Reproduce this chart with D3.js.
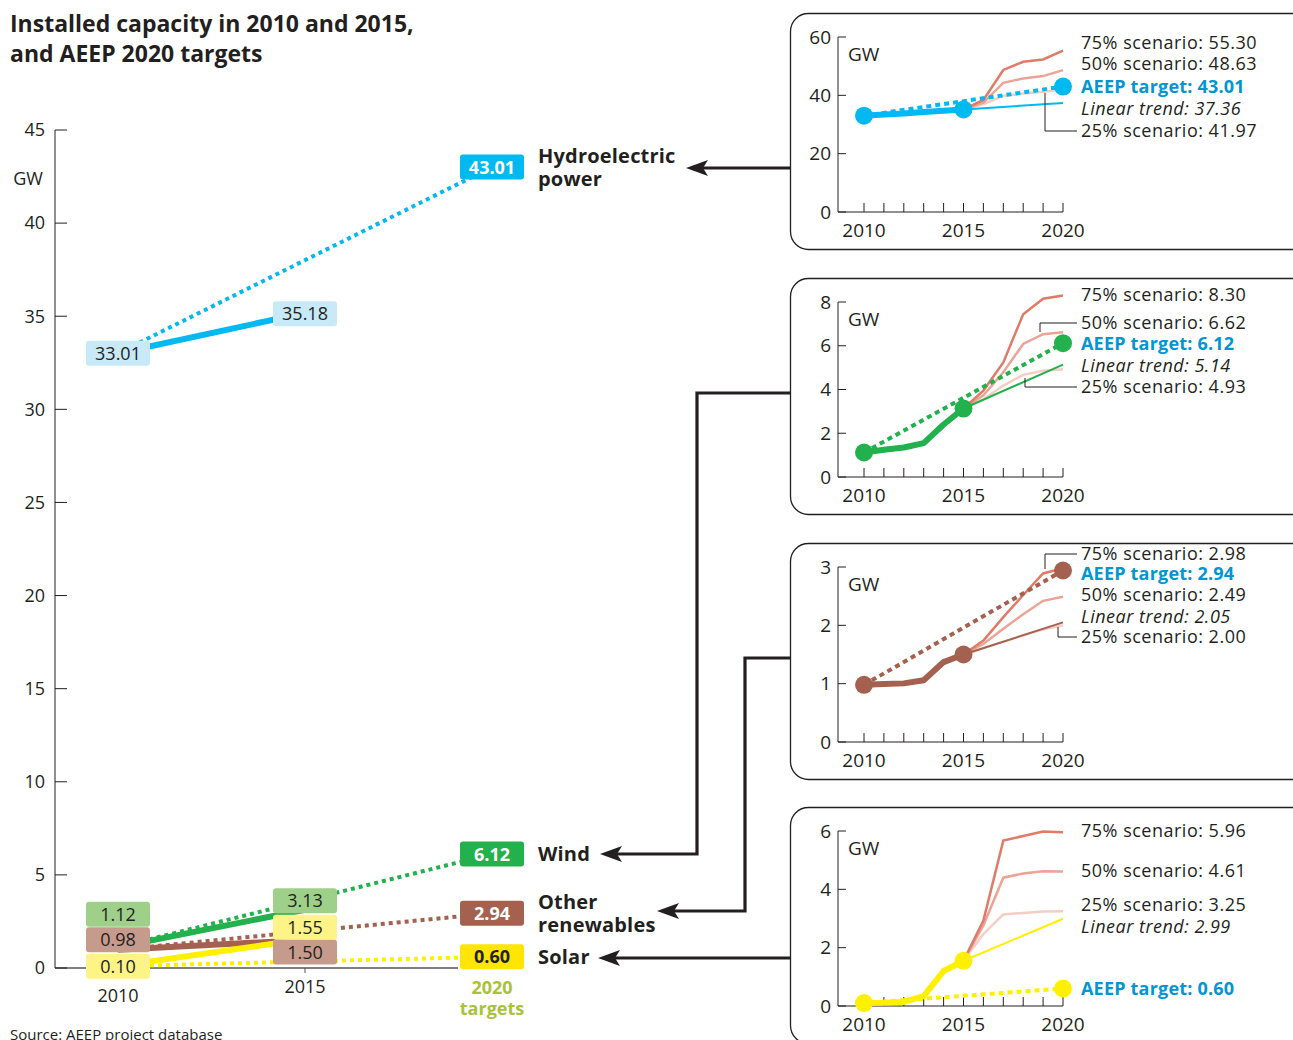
<!DOCTYPE html>
<html>
<head>
<meta charset="utf-8">
<script src="https://cdn.jsdelivr.net/npm/d3@7/dist/d3.min.js"></script>
<style>
  html, body { margin: 0; padding: 0; background: #ffffff; }
  svg { display: block; }
  text { font-family: "Open Sans", "Noto Sans", sans-serif; fill: #231f20; }
</style>
</head>
<body>
<svg id="chart" width="1293" height="1040"></svg>
<script>
// ---------------- DATA ----------------
const mainYears = [2010, 2015, 2020];
const technologies = ["Hydroelectric power", "Wind", "Other renewables", "Solar"];
const values2010 = [33.01, 1.12, 0.98, 0.10];
const values2015 = [35.18, 3.13, 1.50, 1.55];
const targets2020 = [43.01, 6.12, 2.94, 0.60];
const mainTicks = [0, 5, 10, 15, 20, 25, 30, 35, 40, 45];

const panelYears = [2010, 2011, 2012, 2013, 2014, 2015, 2016, 2017, 2018, 2019, 2020];
const histYears = [2010, 2011, 2012, 2013, 2014, 2015];
const scenarioYears = [2015, 2016, 2017, 2018, 2019, 2020];

// Hydroelectric
const hydroHist = [33.01, 33.4, 33.8, 34.3, 34.7, 35.18];
const hydro75 = [35.18, 38.4, 48.7, 51.5, 52.3, 55.30];
const hydro50 = [35.18, 37.5, 44.3, 45.8, 46.6, 48.63];
const hydro25 = [35.18, 37.0, 39.8, 40.6, 41.2, 41.97];
const hydroLinear = [35.18, 37.36];
const hydroTicks = [0, 20, 40, 60];

// Wind
const windHist = [1.12, 1.25, 1.35, 1.55, 2.40, 3.13];
const wind75 = [3.13, 3.95, 5.24, 7.44, 8.15, 8.30];
const wind50 = [3.13, 3.73, 4.79, 6.08, 6.53, 6.62];
const wind25 = [3.13, 3.55, 4.18, 4.67, 4.86, 4.93];
const windLinear = [3.13, 5.14];
const windTicks = [0, 2, 4, 6, 8];

// Other renewables
const otherHist = [0.98, 0.995, 1.005, 1.06, 1.37, 1.50];
const other75 = [1.50, 1.74, 2.14, 2.52, 2.89, 2.98];
const other50 = [1.50, 1.68, 1.94, 2.19, 2.42, 2.49];
const other25 = [1.50, 1.61, 1.72, 1.83, 1.93, 2.00];
const otherLinear = [1.50, 2.05];
const otherTicks = [0, 1, 2, 3];

// Solar
const solarHist = [0.10, 0.11, 0.14, 0.34, 1.20, 1.55];
const solar75 = [1.55, 2.93, 5.67, 5.83, 5.98, 5.96];
const solar50 = [1.55, 2.76, 4.40, 4.54, 4.62, 4.61];
const solar25 = [1.55, 2.47, 3.14, 3.19, 3.24, 3.25];
const solarLinear = [1.55, 2.99];
const solarTicks = [0, 2, 4, 6];

// ---------------- STYLE / LAYOUT ----------------
const seriesColor = ["#00b9f1", "#22b14c", "#a5614f", "#fff000"];
const lightBox = ["#c7e9f8", "#9ed08a", "#c79b8c", "#fdf386"];
const darkBox = ["#00b9f1", "#22b14c", "#a5614f", "#ffe600"];
const darkBoxText = ["#ffffff", "#ffffff", "#ffffff", "#231f20"];
const scen75Color = "#df7b69";
const scen50Color = "#eba496";
const scen25Color = "#f5cdc4";
const aeepBlue = "#0095d3";
const ink = "#231f20";

// label box vertical nudges (px) to avoid overlaps
const nudge2010 = [0, -33, -10, 0];
const nudge2015 = [1, -9, 12, -12];

const svg = d3.select("#chart");

// ---------------- TITLE ----------------
svg.append("text").attr("x", 10).attr("y", 32)
  .style("font-size", "23px").style("font-weight", "700")
  .text("Installed capacity in 2010 and 2015,");
svg.append("text").attr("x", 10).attr("y", 62)
  .style("font-size", "23px").style("font-weight", "700")
  .text("and AEEP 2020 targets");

// ---------------- MAIN CHART ----------------
const yMain = d3.scaleLinear().domain([0, 45]).range([968, 130]);
const xMain = d3.scaleLinear().domain([2010, 2020]).range([118, 492]);

const gAxis = svg.append("g");
gAxis.append("line").attr("x1", 55).attr("x2", 55).attr("y1", yMain(45)).attr("y2", yMain(0))
  .attr("stroke", ink).attr("stroke-width", 1);
gAxis.append("line").attr("x1", 55).attr("x2", 458).attr("y1", yMain(0)).attr("y2", yMain(0))
  .attr("stroke", "#555").attr("stroke-width", 1.5);
mainTicks.forEach(t => {
  gAxis.append("line").attr("x1", 55).attr("x2", 67).attr("y1", yMain(t)).attr("y2", yMain(t))
    .attr("stroke", ink).attr("stroke-width", 1);
  gAxis.append("text").attr("x", 45).attr("y", yMain(t)).attr("dy", "0.35em")
    .attr("text-anchor", "end").style("font-size", "18px").text(t);
});
gAxis.append("line").attr("x1", xMain(2015)).attr("x2", xMain(2015)).attr("y1", yMain(0)).attr("y2", yMain(0) + 5)
  .attr("stroke", "#555");
gAxis.append("text").attr("x", 28).attr("y", 179).attr("dy", "0.35em").attr("text-anchor", "middle")
  .style("font-size", "18px").text("GW");

svg.append("text").attr("x", xMain(2010)).attr("y", 996).attr("dy", "0.35em").attr("text-anchor", "middle")
  .style("font-size", "18px").text("2010");
svg.append("text").attr("x", xMain(2015)).attr("y", 987).attr("dy", "0.35em").attr("text-anchor", "middle")
  .style("font-size", "18px").text("2015");
svg.append("text").attr("x", xMain(2020)).attr("y", 988).attr("dy", "0.35em").attr("text-anchor", "middle")
  .style("font-size", "18px").style("font-weight", "700").style("fill", "#a8c23a").text("2020");
svg.append("text").attr("x", xMain(2020)).attr("y", 1009).attr("dy", "0.35em").attr("text-anchor", "middle")
  .style("font-size", "18px").style("font-weight", "700").style("fill", "#a8c23a").text("targets");

const gLines = svg.append("g");
technologies.forEach((t, i) => {
  // dotted target line 2010 -> 2020
  gLines.append("line")
    .attr("x1", xMain(mainYears[0])).attr("y1", yMain(values2010[i]))
    .attr("x2", xMain(mainYears[2])).attr("y2", yMain(targets2020[i]))
    .attr("stroke", seriesColor[i]).attr("stroke-width", 4).attr("stroke-dasharray", "4,4");
});
technologies.forEach((t, i) => {
  gLines.append("line")
    .attr("x1", xMain(mainYears[0])).attr("y1", yMain(values2010[i]))
    .attr("x2", xMain(mainYears[1])).attr("y2", yMain(values2015[i]))
    .attr("stroke", seriesColor[i]).attr("stroke-width", 6);
});

function valueBox(g, cx, cy, label, fill, color, bold) {
  g.append("rect").attr("x", cx - 32).attr("y", cy - 12.5).attr("width", 64).attr("height", 25)
    .attr("rx", 3).attr("fill", fill);
  g.append("text").attr("x", cx).attr("y", cy).attr("dy", "0.36em").attr("text-anchor", "middle")
    .style("font-size", "18px").style("font-weight", bold ? "700" : "400").style("fill", color)
    .text(label);
}
const gBoxes = svg.append("g");
technologies.forEach((t, i) => {
  valueBox(gBoxes, xMain(mainYears[0]), yMain(values2010[i]) + nudge2010[i], values2010[i].toFixed(2), lightBox[i], ink, false);
  valueBox(gBoxes, xMain(mainYears[1]), yMain(values2015[i]) + nudge2015[i], values2015[i].toFixed(2), lightBox[i], ink, false);
  valueBox(gBoxes, xMain(mainYears[2]), yMain(targets2020[i]), targets2020[i].toFixed(2), darkBox[i], darkBoxText[i], true);
});

// technology labels
function techLabel(lines, y0) {
  lines.forEach((l, k) => {
    svg.append("text").attr("x", 538).attr("y", y0 + k * 23).attr("dy", "0.35em")
      .style("font-size", "20px").style("font-weight", "700").style("letter-spacing", "0.2px").text(l);
  });
}
techLabel(["Hydroelectric", "power"], yMain(targets2020[0]) - 11);
techLabel(["Wind"], yMain(targets2020[1]));
techLabel(["Other", "renewables"], yMain(targets2020[2]) - 11);
techLabel(["Solar"], yMain(targets2020[3]));

// ---------------- CONNECTOR ARROWS ----------------
function arrow(points) {
  const tip = points[points.length - 1];
  const line = points.slice();
  line[line.length - 1] = [tip[0] + 16, tip[1]];
  svg.append("path").attr("d", d3.line()(line)).attr("fill", "none")
    .attr("stroke", ink).attr("stroke-width", 3.2);
  svg.append("path")
    .attr("d", `M${tip[0]},${tip[1]} L${tip[0] + 22},${tip[1] - 8} L${tip[0] + 17},${tip[1]} L${tip[0] + 22},${tip[1] + 8} Z`)
    .attr("fill", ink);
}

// ---------------- PANELS ----------------
const panels = [
  { top: 13, max: 60, ticks: hydroTicks, hist: hydroHist, s75: hydro75, s50: hydro50, s25: hydro25, lin: hydroLinear,
    v2010: values2010[0], target: targets2020[0], color: seriesColor[0], linColor: seriesColor[0],
    labels: [["75% scenario: 55.30", 30, "n"], ["50% scenario: 48.63", 51, "n"], ["AEEP target: 43.01", 74, "b"],
             ["Linear trend: 37.36", 96, "i"], ["25% scenario: 41.97", 118, "n"]],
    leaders: [[[1077, 118], [1045, 118], [1045, 80]]],
    arrowPts: [[790, 168], [686, 168]] },
  { top: 278, max: 8, ticks: windTicks, hist: windHist, s75: wind75, s50: wind50, s25: wind25, lin: windLinear,
    v2010: values2010[1], target: targets2020[1], color: seriesColor[1], linColor: seriesColor[1],
    labels: [["75% scenario: 8.30", 17, "n"], ["50% scenario: 6.62", 45, "n"], ["AEEP target: 6.12", 66, "b"],
             ["Linear trend: 5.14", 88, "i"], ["25% scenario: 4.93", 109, "n"]],
    leaders: [[[1077, 45], [1040, 45], [1040, 54]], [[1077, 109], [1025, 109], [1025, 100]]],
    arrowPts: [[790, 393], [697, 393], [697, 854], [600, 854]] },
  { top: 543, max: 3, ticks: otherTicks, hist: otherHist, s75: other75, s50: other50, s25: other25, lin: otherLinear,
    v2010: values2010[2], target: targets2020[2], color: seriesColor[2], linColor: "#a5614f",
    labels: [["75% scenario: 2.98", 11, "n"], ["AEEP target: 2.94", 31, "b"], ["50% scenario: 2.49", 52, "n"],
             ["Linear trend: 2.05", 74, "i"], ["25% scenario: 2.00", 94, "n"]],
    leaders: [[[1077, 11], [1045, 11], [1045, 26]], [[1077, 94], [1058, 94], [1058, 84]]],
    arrowPts: [[790, 658], [745, 658], [745, 911], [657, 911]] },
  { top: 807, max: 6, ticks: solarTicks, hist: solarHist, s75: solar75, s50: solar50, s25: solar25, lin: solarLinear,
    v2010: values2010[3], target: targets2020[3], color: seriesColor[3], linColor: "#fff000",
    labels: [["75% scenario: 5.96", 24, "n"], ["50% scenario: 4.61", 64, "n"], ["25% scenario: 3.25", 98, "n"],
             ["Linear trend: 2.99", 120, "i"], ["AEEP target: 0.60", 182, "b"]],
    leaders: [],
    arrowPts: [[790, 958], [598, 958]] }
];

panels.forEach(p => {
  const g = svg.append("g");
  const top = p.top;
  g.append("rect").attr("x", 790.5).attr("y", top + 0.5).attr("width", 540).attr("height", 236)
    .attr("rx", 18).attr("fill", "#ffffff").attr("stroke", ink).attr("stroke-width", 1.3);

  const x = d3.scaleLinear().domain([2010, 2020]).range([864, 1063]);
  const y = d3.scaleLinear().domain([0, p.max]).range([top + 199, top + 24]);

  // axes
  g.append("line").attr("x1", 838).attr("x2", 838).attr("y1", y(p.max)).attr("y2", y(0)).attr("stroke", ink);
  g.append("line").attr("x1", 838).attr("x2", 1063).attr("y1", y(0)).attr("y2", y(0)).attr("stroke", ink);
  p.ticks.forEach(t => {
    g.append("line").attr("x1", 838).attr("x2", 846).attr("y1", y(t)).attr("y2", y(t)).attr("stroke", ink);
    g.append("text").attr("x", 831).attr("y", y(t)).attr("dy", "0.35em").attr("text-anchor", "end")
      .style("font-size", "19px").text(t);
  });
  panelYears.forEach(yr => {
    g.append("line").attr("x1", x(yr)).attr("x2", x(yr)).attr("y1", y(0)).attr("y2", y(0) - 9).attr("stroke", ink);
  });
  [2010, 2015, 2020].forEach(yr => {
    g.append("text").attr("x", x(yr)).attr("y", y(0) + 18).attr("dy", "0.35em").attr("text-anchor", "middle")
      .style("font-size", "19px").text(yr);
  });
  g.append("text").attr("x", 848).attr("y", top + 41).attr("dy", "0.35em").style("font-size", "19px").text("GW");

  const line = d3.line().x(d => x(d[0])).y(d => y(d[1]));
  const pairs = (yrs, vals) => yrs.map((yr, k) => [yr, vals[k]]);

  g.append("path").attr("d", line(pairs(scenarioYears, p.s25))).attr("fill", "none").attr("stroke", scen25Color).attr("stroke-width", 2.5);
  g.append("path").attr("d", line(pairs(scenarioYears, p.s50))).attr("fill", "none").attr("stroke", scen50Color).attr("stroke-width", 2.5);
  g.append("path").attr("d", line(pairs(scenarioYears, p.s75))).attr("fill", "none").attr("stroke", scen75Color).attr("stroke-width", 2.5);
  g.append("path").attr("d", line([[2015, p.lin[0]], [2020, p.lin[1]]])).attr("fill", "none").attr("stroke", p.linColor).attr("stroke-width", 2);
  g.append("path").attr("d", line([[2010, p.v2010], [2020, p.target]])).attr("fill", "none")
    .attr("stroke", p.color).attr("stroke-width", 4).attr("stroke-dasharray", "5,4");
  g.append("path").attr("d", line(pairs(histYears, p.hist))).attr("fill", "none")
    .attr("stroke", p.color).attr("stroke-width", 6).attr("stroke-linejoin", "round");

  [[2010, p.hist[0]], [2015, p.hist[p.hist.length - 1]], [2020, p.target]].forEach(d => {
    g.append("circle").attr("cx", x(d[0])).attr("cy", y(d[1])).attr("r", 9).attr("fill", p.color);
  });

  p.leaders.forEach(pts => {
    g.append("path").attr("d", d3.line()(pts.map(q => [q[0], top + q[1]]))).attr("fill", "none")
      .attr("stroke", ink).attr("stroke-width", 1);
  });

  p.labels.forEach(([txt, dy, kind]) => {
    const t = g.append("text").attr("x", 1081).attr("y", top + dy).attr("dy", "0.35em")
      .style("font-size", "18px").style("letter-spacing", "0.5px").text(txt);
    if (kind === "b") t.style("font-weight", "700").style("fill", aeepBlue).style("letter-spacing", "0.2px");
    if (kind === "i") t.style("font-style", "italic");
  });

  arrow(p.arrowPts);
});

// ---------------- SOURCE ----------------
svg.append("text").attr("x", 10).attr("y", 1040).style("font-size", "15px").text("Source: AEEP project database");
</script>
</body>
</html>
